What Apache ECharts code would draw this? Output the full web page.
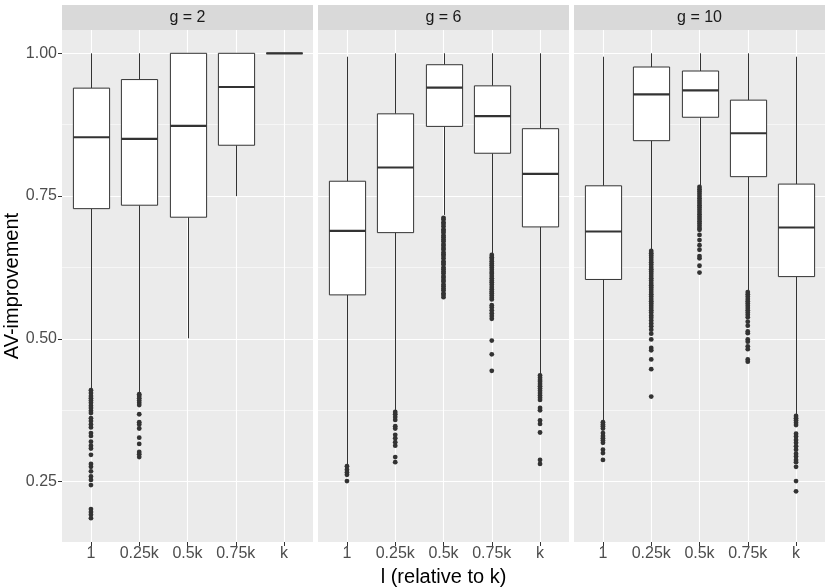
<!DOCTYPE html>
<html>
<head>
<meta charset="utf-8">
<title>AV-improvement</title>
<script src="https://cdn.jsdelivr.net/npm/echarts@6/dist/echarts.min.js"></script>
<style>
  html, body { margin: 0; padding: 0; background: #fff; }
  #chart { width: 830px; height: 588px; }
</style>
</head>
<body>
<div id="chart"></div>
<script>
// categories on the x axis, facets, y ticks
const categories = ['1', '0.25k', '0.5k', '0.75k', 'k']
const facets = ['g = 2', 'g = 6', 'g = 10']
const yMajor = [0.25, 0.5, 0.75, 1.0]
const yMinor = [0.375, 0.625, 0.875]

// box stats per category: [lower whisker, Q1, median, Q3, upper whisker]
const boxG2 = [
  [0.412, 0.728, 0.853, 0.939, 1.0],
  [0.405, 0.734, 0.850, 0.954, 1.0],
  [0.501, 0.713, 0.873, 1.0, 1.0],
  [0.750, 0.839, 0.941, 1.0, 1.0],
  [1.0, 1.0, 1.0, 1.0, 1.0]
]
const boxG6 = [
  [0.280, 0.577, 0.689, 0.776, 0.994],
  [0.375, 0.686, 0.800, 0.894, 1.0],
  [0.717, 0.872, 0.940, 0.980, 1.0],
  [0.650, 0.825, 0.890, 0.943, 1.0],
  [0.438, 0.696, 0.789, 0.868, 1.0]
]
const boxG10 = [
  [0.356, 0.604, 0.688, 0.768, 0.994],
  [0.657, 0.847, 0.928, 0.976, 1.0],
  [0.769, 0.888, 0.935, 0.969, 1.0],
  [0.584, 0.784, 0.860, 0.918, 1.0],
  [0.367, 0.609, 0.695, 0.771, 0.994]
]

// outliers per category
const outG2 = [
  [0.410, 0.405, 0.400, 0.396, 0.392, 0.388, 0.383, 0.379, 0.374, 0.370, 0.361, 0.356, 0.350, 0.345,
   0.335, 0.330, 0.320, 0.313, 0.308, 0.297, 0.281, 0.276, 0.268, 0.259, 0.253, 0.244, 0.202, 0.197, 0.192, 0.186],
  [0.403, 0.400, 0.396, 0.392, 0.388, 0.384, 0.368, 0.354, 0.350, 0.343, 0.327, 0.316, 0.302, 0.298, 0.293],
  [],
  [],
  []
]
const outG6 = [
  [0.277, 0.271, 0.266, 0.262, 0.251],
  [0.372, 0.368, 0.363, 0.358, 0.347, 0.343, 0.332, 0.326, 0.319, 0.313, 0.293, 0.284],
  [0.712, 0.709, 0.704, 0.701, 0.697, 0.692, 0.689, 0.686, 0.681, 0.678, 0.674, 0.671, 0.666, 0.663,
   0.659, 0.656, 0.651, 0.648, 0.645, 0.641, 0.636, 0.633, 0.630, 0.625, 0.622, 0.618, 0.615, 0.610,
   0.607, 0.603, 0.600, 0.595, 0.592, 0.588, 0.585, 0.580, 0.577, 0.573],
  [0.647, 0.643, 0.640, 0.636, 0.632, 0.629, 0.625, 0.621, 0.617, 0.614, 0.610, 0.606, 0.602, 0.599,
   0.595, 0.591, 0.587, 0.583, 0.580, 0.576, 0.572, 0.569, 0.559, 0.555, 0.550, 0.545, 0.540, 0.535,
   0.497, 0.473, 0.444],
  [0.436, 0.432, 0.428, 0.425, 0.421, 0.417, 0.413, 0.409, 0.405, 0.401, 0.397, 0.393, 0.379, 0.375,
   0.357, 0.351, 0.336, 0.288, 0.281]
]
const outG10 = [
  [0.354, 0.350, 0.347, 0.343, 0.335, 0.330, 0.326, 0.322, 0.318, 0.306, 0.300, 0.288],
  [0.654, 0.650, 0.646, 0.642, 0.638, 0.634, 0.630, 0.626, 0.622, 0.618, 0.614, 0.610, 0.606, 0.602,
   0.598, 0.594, 0.590, 0.586, 0.582, 0.578, 0.574, 0.570, 0.566, 0.562, 0.558, 0.554, 0.550, 0.546,
   0.541, 0.537, 0.532, 0.527, 0.522, 0.516, 0.509, 0.499, 0.484, 0.480, 0.464, 0.447, 0.399],
  [0.766, 0.762, 0.758, 0.754, 0.750, 0.746, 0.742, 0.738, 0.734, 0.730, 0.726, 0.722, 0.718, 0.714,
   0.710, 0.706, 0.702, 0.698, 0.694, 0.691, 0.682, 0.673, 0.664, 0.656, 0.645, 0.641, 0.628, 0.616],
  [0.582, 0.578, 0.574, 0.570, 0.566, 0.562, 0.558, 0.554, 0.550, 0.546, 0.542, 0.538, 0.530, 0.523,
   0.513, 0.510, 0.499, 0.495, 0.487, 0.482, 0.464, 0.460],
  [0.365, 0.361, 0.357, 0.353, 0.349, 0.334, 0.329, 0.323, 0.318, 0.312, 0.306, 0.299, 0.294, 0.288,
   0.284, 0.276, 0.251, 0.233]
]

const boxes = [boxG2, boxG6, boxG10]
const outliers = [outG2, outG6, outG10]

const font = '"Liberation Sans", Arial, sans-serif'
const panelLeft = [62, 318, 574]
const panelTop = 30
const panelW = 251
const panelH = 512
const yMin = 0.1443
const yMax = 1.0408
const catPos = categories.map((c, i) => i + 1)

function renderBox(params, api) {
  const x = api.value(0)
  const lo = api.coord([x, api.value(1)])
  const q1 = api.coord([x, api.value(2)])
  const md = api.coord([x, api.value(3)])
  const q3 = api.coord([x, api.value(4)])
  const hi = api.coord([x, api.value(5)])
  const w = api.size([0.75, 0])[0]
  const cx = Math.round(lo[0]) + 0.5
  const line = { stroke: '#333333', lineWidth: 1 }
  return {
    type: 'group',
    children: [
      { type: 'line', shape: { x1: cx, y1: hi[1], x2: cx, y2: q3[1] }, style: line },
      { type: 'line', shape: { x1: cx, y1: q1[1], x2: cx, y2: lo[1] }, style: line },
      {
        type: 'rect',
        shape: { x: cx - w / 2, y: q3[1], width: w, height: q1[1] - q3[1] },
        style: { fill: '#ffffff', stroke: '#333333', lineWidth: 1 }
      },
      {
        type: 'line',
        shape: { x1: cx - w / 2, y1: md[1], x2: cx + w / 2, y2: md[1] },
        style: { stroke: '#333333', lineWidth: 2.2 }
      }
    ]
  }
}

const grid = []
const xAxis = []
const yAxis = []
const series = []
const graphic = []

facets.forEach((name, i) => {
  grid.push({
    left: panelLeft[i], top: panelTop, width: panelW, height: panelH,
    show: true, backgroundColor: '#EBEBEB', borderWidth: 0
  })
  xAxis.push({
    type: 'value', gridIndex: i, min: 0.4, max: 5.6,
    axisLine: { show: false },
    axisTick: { show: true, customValues: catPos, length: 4, lineStyle: { color: '#333333', width: 1 } },
    axisLabel: {
      customValues: catPos, formatter: v => categories[Math.round(v) - 1],
      color: '#4D4D4D', fontSize: 16, fontFamily: font, margin: 4
    },
    splitLine: { show: true, lineStyle: { color: '#ffffff', width: 1.1 } }
  })
  // major y
  yAxis.push({
    type: 'value', gridIndex: i, min: yMin, max: yMax, position: 'left',
    axisLine: { show: false },
    axisTick: { show: i === 0, customValues: yMajor, length: 4, lineStyle: { color: '#333333', width: 1 } },
    axisLabel: {
      show: i === 0, customValues: yMajor, formatter: v => v.toFixed(2),
      color: '#4D4D4D', fontSize: 16, fontFamily: font, margin: 5
    },
    splitLine: { show: true, lineStyle: { color: '#ffffff', width: 1.1 } }
  })
  // minor y
  yAxis.push({
    type: 'value', gridIndex: i, min: yMin, max: yMax, position: 'left',
    axisLine: { show: false },
    axisTick: { show: false, customValues: yMinor },
    axisLabel: { show: false, customValues: yMinor },
    splitLine: { show: true, lineStyle: { color: '#ffffff', width: 0.55 } }
  })
  series.push({
    type: 'custom', name: name, xAxisIndex: i, yAxisIndex: 2 * i, z: 2,
    renderItem: renderBox,
    encode: { x: 0, y: [1, 2, 3, 4, 5] },
    data: boxes[i].map((b, k) => [catPos[k]].concat(b))
  })
  const pts = []
  outliers[i].forEach((vals, k) => vals.forEach(v => pts.push([catPos[k], v])))
  series.push({
    type: 'scatter', xAxisIndex: i, yAxisIndex: 2 * i, z: 3,
    symbol: 'circle', symbolSize: 4.8,
    itemStyle: { color: '#333333', opacity: 1 },
    data: pts
  })
  graphic.push({
    type: 'rect', shape: { x: panelLeft[i], y: 5, width: panelW, height: 25 },
    style: { fill: '#D9D9D9' }, z: 0
  })
  graphic.push({
    type: 'text', x: panelLeft[i] + panelW / 2, y: 18,
    style: { text: name, fill: '#1A1A1A', font: '16px ' + font, align: 'center', verticalAlign: 'middle' }
  })
})

graphic.push({
  type: 'text', x: 12, y: panelTop + panelH / 2, rotation: Math.PI / 2,
  style: { text: 'AV-improvement', fill: '#000000', font: '20px ' + font, align: 'center', verticalAlign: 'middle' }
})
graphic.push({
  type: 'text', x: (panelLeft[0] + panelLeft[2] + panelW) / 2, y: 577,
  style: { text: 'l (relative to k)', fill: '#000000', font: '20px ' + font, align: 'center', verticalAlign: 'middle' }
})

const chart = echarts.init(document.getElementById('chart'), null, { renderer: 'canvas' })
chart.setOption({
  animation: false,
  backgroundColor: '#ffffff',
  textStyle: { fontFamily: font },
  grid, xAxis, yAxis, series, graphic
})
</script>
</body>
</html>
